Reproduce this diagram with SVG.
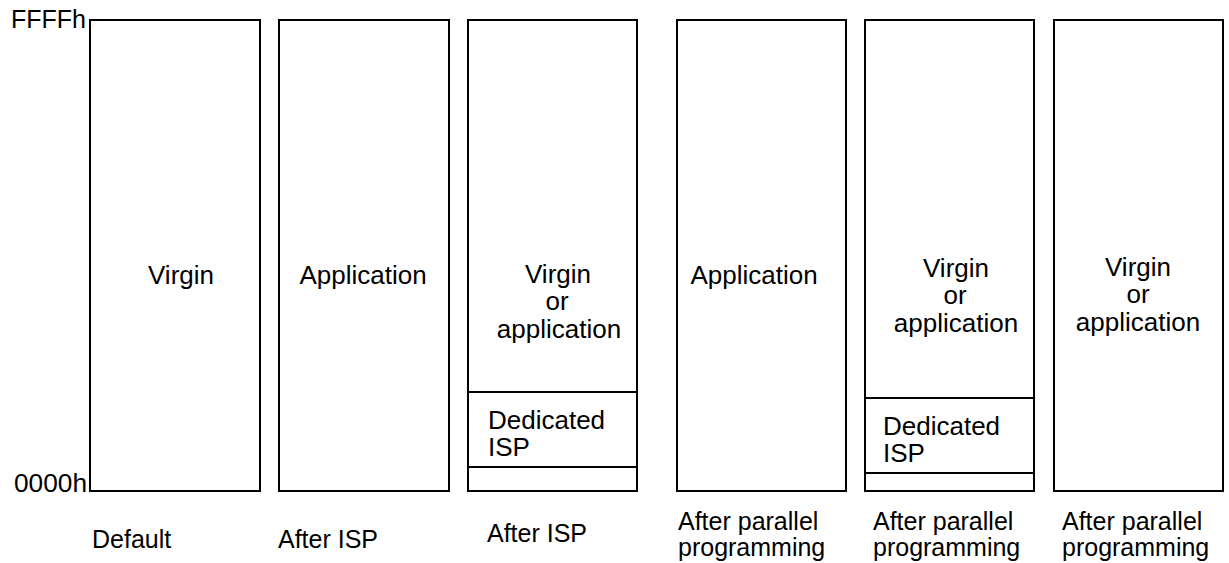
<svg xmlns="http://www.w3.org/2000/svg" width="1229" height="563" viewBox="0 0 1229 563">
<style>
.box{fill:#fff;stroke:#000;stroke-width:2}
.div{stroke:#000;stroke-width:2}
text{font-family:"Liberation Sans",Arial,sans-serif;font-size:25px;fill:#000}
.in{font-size:26px}
.c{text-anchor:middle}
</style>
<rect width="1229" height="563" fill="#fff"/>
<g id="axis">
<text x="11" y="28">FFFFh</text>
<text x="14" y="492" textLength="73" lengthAdjust="spacingAndGlyphs">0000h</text>
</g>
<g id="col1">
<rect class="box" x="90" y="20" width="170" height="471"/>
<text class="c in" x="181" y="284">Virgin</text>
<text x="92" y="548">Default</text>
</g>
<g id="col2">
<rect class="box" x="279" y="20" width="170" height="471"/>
<text class="c in" x="363" y="284">Application</text>
<text x="278" y="548">After ISP</text>
</g>
<g id="col3">
<rect class="box" x="468" y="20" width="169" height="471"/>
<line class="div" x1="468" y1="392" x2="637" y2="392"/>
<line class="div" x1="468" y1="467" x2="637" y2="467"/>
<text class="c in" x="558" y="283">Virgin</text>
<text class="c in" x="557" y="310">or</text>
<text class="c in" x="559" y="338">application</text>
<text class="in" x="488" y="429">Dedicated</text>
<text class="in" x="488" y="456">ISP</text>
<text x="487" y="542">After ISP</text>
</g>
<g id="col4">
<rect class="box" x="677" y="20" width="169" height="471"/>
<text class="c in" x="754" y="284">Application</text>
<text x="678" y="530">After parallel</text>
<text x="678" y="556">programming</text>
</g>
<g id="col5">
<rect class="box" x="865" y="20" width="169" height="471"/>
<line class="div" x1="865" y1="398" x2="1034" y2="398"/>
<line class="div" x1="865" y1="473" x2="1034" y2="473"/>
<text class="c in" x="956" y="277">Virgin</text>
<text class="c in" x="955" y="304">or</text>
<text class="c in" x="956" y="332">application</text>
<text class="in" x="883" y="435">Dedicated</text>
<text class="in" x="883" y="462">ISP</text>
<text x="873" y="530">After parallel</text>
<text x="873" y="556">programming</text>
</g>
<g id="col6">
<rect class="box" x="1054" y="20" width="169" height="471"/>
<text class="c in" x="1138" y="276">Virgin</text>
<text class="c in" x="1138" y="303">or</text>
<text class="c in" x="1138" y="331">application</text>
<text x="1062" y="530">After parallel</text>
<text x="1062" y="556">programming</text>
</g>
<g id="connectors"></g>
</svg>
